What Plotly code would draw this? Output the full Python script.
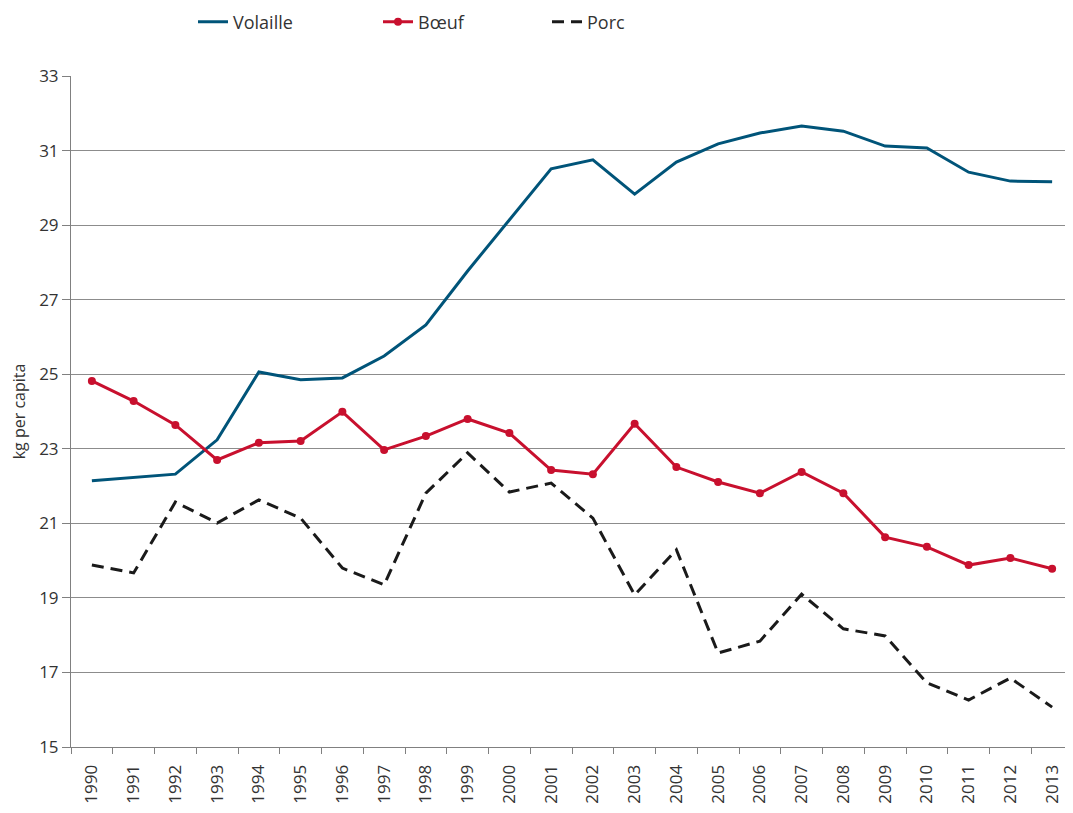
import plotly.graph_objects as go

years = [str(y) for y in range(1990, 2014)]
volaille = [22.14, 22.22, 22.32, 23.24, 25.06, 24.85, 24.90, 25.49, 26.32, 27.77, 29.14, 30.51,
            30.75, 29.83, 30.69, 31.18, 31.47, 31.66, 31.52, 31.12, 31.07, 30.42, 30.18, 30.16]
boeuf = [24.82, 24.28, 23.64, 22.70, 23.16, 23.21, 23.99, 22.97, 23.34, 23.80, 23.42, 22.43,
         22.32, 23.67, 22.51, 22.11, 21.81, 22.38, 21.81, 20.63, 20.37, 19.88, 20.07, 19.78]
porc = [19.88, 19.67, 21.57, 21.01, 21.63, 21.14, 19.80, 19.35, 21.81, 22.89, 21.84, 22.08,
        21.14, 19.08, 20.29, 17.52, 17.84, 19.10, 18.17, 17.98, 16.72, 16.26, 16.85, 16.07]
y_ticks = [15, 17, 19, 21, 23, 25, 27, 29, 31, 33]

font_family = "'Open Sans', 'Noto Sans', sans-serif"

W, H = 1065, 805  # page body has an 8px margin

fig = go.Figure()
fig.add_trace(go.Scatter(x=years, y=volaille, mode="lines", name="Volaille", legend="legend",
                         line=dict(color="#005479", width=3)))
fig.add_trace(go.Scatter(x=years, y=boeuf, mode="lines+markers", name="Bœuf", legend="legend2",
                         line=dict(color="#C8102E", width=3),
                         marker=dict(color="#C8102E", size=8)))
fig.add_trace(go.Scatter(x=years, y=porc, mode="lines", name="Porc", legend="legend3",
                         line=dict(color="#1a1a1a", width=3, dash="12px,7px")))


def leg(xpx):
    return dict(orientation="h", x=xpx / W, y=1 - 14 / H, xref="container", yref="container",
                xanchor="left", yanchor="middle", bgcolor="rgba(0,0,0,0)",
                font=dict(size=18, color="#333333"))


fig.update_layout(
    width=W, height=H,
    margin=dict(l=63, r=0, t=68, b=66, autoexpand=False),
    plot_bgcolor="white", paper_bgcolor="white",
    font=dict(family=font_family, size=16, color="#333333"),
    showlegend=True,
    legend=leg(185), legend2=leg(370), legend3=leg(539),
    xaxis=dict(type="category", range=[-0.5, 23.5], tickangle=-90, automargin=False,
               tickson="boundaries", ticks="outside", ticklen=6, tickcolor="#808080",
               ticklabelstandoff=10,
               showline=True, linecolor="#808080", linewidth=1, showgrid=False,
               tickfont=dict(size=17, color="#333333")),
    yaxis=dict(range=[15, 33], tickvals=y_ticks, ticks="outside", ticklen=8, tickcolor="#808080",
               showline=True, linecolor="#808080", linewidth=1, automargin=False,
               showgrid=True, gridcolor="#8c8c8c", gridwidth=1, zeroline=False,
               tickfont=dict(size=17, color="#333333"),
               title=dict(text="kg per capita", font=dict(size=16, color="#333333"), standoff=18)),
)

fig.write_html("out.html")
